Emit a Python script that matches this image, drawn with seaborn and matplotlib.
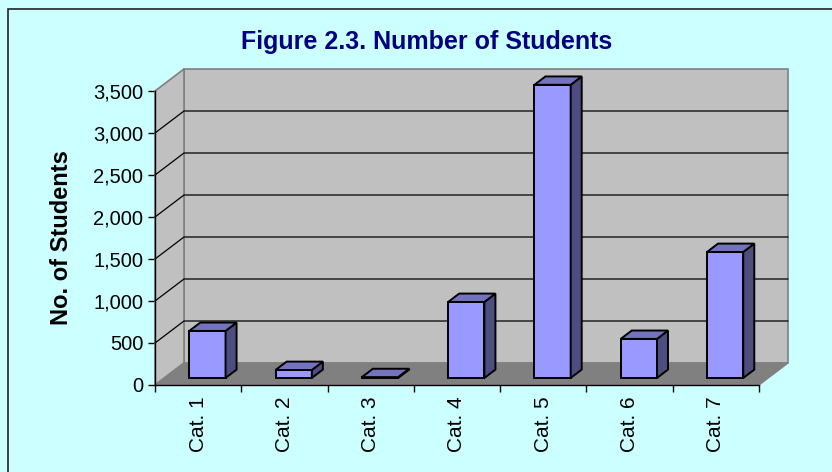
import matplotlib
matplotlib.use("Agg")
import matplotlib.pyplot as plt
import seaborn as sns
from matplotlib.patches import Polygon, Rectangle
from matplotlib.transforms import IdentityTransform, ScaledTranslation
from matplotlib.ticker import FuncFormatter

categories = ["Cat. 1", "Cat. 2", "Cat. 3", "Cat. 4", "Cat. 5", "Cat. 6", "Cat. 7"]
students = [560, 95, 10, 905, 3490, 465, 1500]
y_ticks = [0, 500, 1000, 1500, 2000, 2500, 3000, 3500]

# depth of the fake 3d box in pixels, and where the bars sit inside it
DX, DY = 29, 22
FRONT, BACK = 0.32, 0.70

sns.set_theme(style="white")
plt.rcParams["font.family"] = ["Liberation Sans", "DejaVu Sans"]

fig = plt.figure(figsize=(8.32, 4.72), dpi=100, facecolor="#CCFFFF")
ax = fig.add_axes([155 / 832, 87 / 472, 604 / 832, 294 / 472])
ax.set_facecolor("none")

sns.barplot(x=categories, y=students, color="#9999FF", saturation=1,
            width=0.42, edgecolor="black", linewidth=1.4, ax=ax, zorder=5)
bars = list(ax.patches)

ax.set_xlim(-0.5, 6.5)
ax.set_ylim(0, 3500)
x0, x1 = ax.get_xlim()
ytop = y_ticks[-1]


def px(x, y, d):
    p = ax.transData.transform((x, y))
    return (p[0] + DX * d, p[1] + DY * d)


def poly(pts, **kw):
    ax.add_patch(Polygon(pts, closed=True, transform=IdentityTransform(),
                         clip_on=False, **kw))


# walls and floor
poly([px(x0, 0, 1), px(x1, 0, 1), px(x1, ytop, 1), px(x0, ytop, 1)],
     fc="#C0C0C0", ec="#808080", lw=1.2, zorder=1)
poly([px(x0, 0, 0), px(x0, 0, 1), px(x0, ytop, 1), px(x0, ytop, 0)],
     fc="#C0C0C0", ec="#808080", lw=1.2, zorder=1)
poly([px(x0, 0, 0), px(x1, 0, 0), px(x1, 0, 1), px(x0, 0, 1)],
     fc="#808080", ec="#808080", lw=1, zorder=1.5)

for t in y_ticks[1:-1]:
    pts = [px(x0, t, 0), px(x0, t, 1), px(x1, t, 1)]
    ax.plot([p[0] for p in pts], [p[1] for p in pts], color="black", lw=0.9,
            transform=IdentityTransform(), clip_on=False, zorder=2)

# bars: shift the front face back, then add side and top
shift = ScaledTranslation(DX * FRONT / 100, DY * FRONT / 100, fig.dpi_scale_trans)
for b in bars:
    b.set_transform(ax.transData + shift)
    b.set_clip_on(False)
    x, w, h = b.get_x(), b.get_width(), b.get_height()
    poly([px(x + w, 0, FRONT), px(x + w, 0, BACK), px(x + w, h, BACK), px(x + w, h, FRONT)],
         fc="#4D4D80", ec="black", lw=1.4, zorder=5)
    poly([px(x, h, FRONT), px(x + w, h, FRONT), px(x + w, h, BACK), px(x, h, BACK)],
         fc="#7373BF", ec="black", lw=1.4, zorder=5)

# axes
for s in ["top", "right"]:
    ax.spines[s].set_visible(False)
for s in ["left", "bottom"]:
    ax.spines[s].set_color("black")
    ax.spines[s].set_linewidth(1)
    ax.spines[s].set_zorder(3)

ax.set_yticks(y_ticks)
ax.yaxis.set_major_formatter(FuncFormatter(lambda v, _: f"{v:,.0f}"))
ax.tick_params(axis="y", length=5, width=1, color="black", pad=3.5,
               labelsize=14.5, labelcolor="black", left=True)

ax.set_xticks(range(len(categories)))
ax.set_xticklabels(categories, rotation=90)
ax.set_xticks([i - 0.5 for i in range(len(categories) + 1)], minor=True)
ax.tick_params(axis="x", which="major", length=0, pad=8, labelsize=15,
               labelcolor="black")
ax.tick_params(axis="x", which="minor", length=5, width=1, color="black",
               bottom=True)
ax.set_xlabel("")

ax.set_ylabel("No. of Students", fontsize=17, fontweight="bold", color="black")
ax.yaxis.set_label_coords(-0.136, 0.5)

fig.text(427 / 832, (472 - 49) / 472, "Figure 2.3. Number of Students",
         ha="center", va="baseline", fontsize=18, fontweight="bold",
         color="#000080")

fig.patches.append(Rectangle((8 / 832, -0.1), 1.0, (472 - 9) / 472 + 0.1,
                             transform=fig.transFigure, fill=False,
                             ec="#222222", lw=1.2))

fig.savefig("out.png", dpi=100, facecolor=fig.get_facecolor())
